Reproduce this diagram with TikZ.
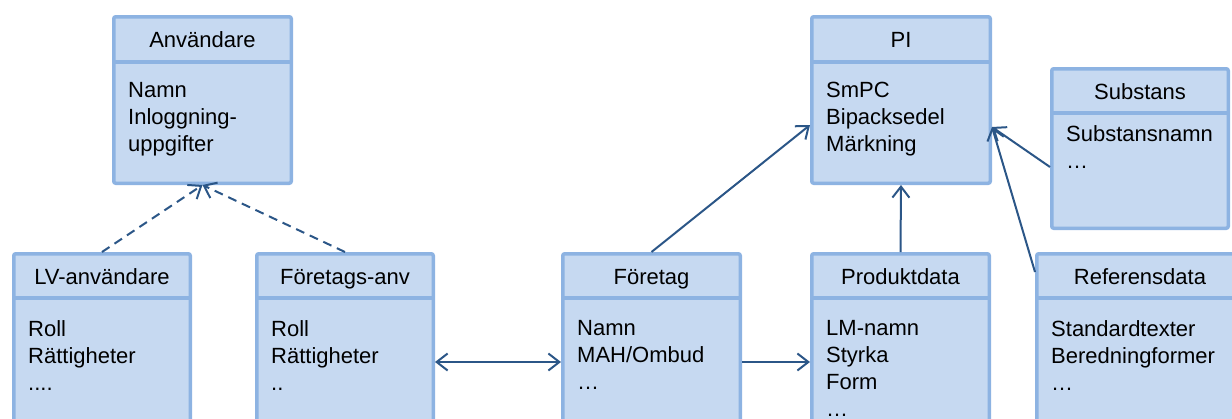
\documentclass[tikz,border=0pt]{standalone}
\usepackage{fontspec}
\setmainfont{Liberation Sans}
\usetikzlibrary{arrows.meta,calc}
\definecolor{boxfill}{HTML}{C6D9F1}
\definecolor{boxline}{HTML}{8DB3E2}
\definecolor{connc}{HTML}{2B5687}
\tikzset{
  cbox/.style={draw=boxline, fill=boxfill, line width=3.5pt, rounded corners=2pt, inner sep=0pt, anchor=north west},
  divline/.style={draw=boxline, line width=3.5pt},
  ctitle/.style={inner sep=0pt, text height=15.8pt, text depth=0pt, font=\fontsize{22}{27}\selectfont, anchor=center},
  cbody/.style={inner sep=0pt, anchor=north west, align=left, font=\fontsize{22}{27}\selectfont},
  link/.style={draw=connc, line width=2pt},
  arr/.style={-{Straight Barb[length=11pt,width=17pt]}},
  darr/.style={{Straight Barb[length=11pt,width=17pt]}-{Straight Barb[length=11pt,width=17pt]}},
  dashlink/.style={link, dash pattern=on 9pt off 6pt}
}
% #1 name, #2 x, #3 y (outer top-left), #4 outer width, #5 outer height,
% #6 header height, #7 title, #8 body, #9 body offset below divider
\newcommand\mkbox[9]{%
  \node[cbox, minimum width={(#4-3.5)*1pt}, minimum height={(#5-3.5)*1pt}] (#1) at (#2,#3) {};
  \draw[divline] ([yshift={-(#6)*1pt}]#1.north west) -- ([yshift={-(#6)*1pt}]#1.north east);
  \node[ctitle] (#1-t) at ([yshift={-(0.5*#6+1.5)*1pt}]#1.north) {#7};
  \node[cbody] (#1-b) at ([xshift=16pt, yshift={-(#6+#9)*1pt}]#1.north west) {#8};
}
\begin{document}
\begin{tikzpicture}[x=1pt,y=-1pt]
\useasboundingbox (0,0) rectangle (1232,418);
\clip (0,0) rectangle (1232,418);

\mkbox{anv}{112}{15}{181}{170}{47}{Användare}{Namn\\Inloggning-\\uppgifter}{20}
\mkbox{pi}{810}{15}{182}{170}{47}{PI}{SmPC\\Bipacksedel\\Märkning}{20}
\mkbox{sub}{1050}{67}{180}{163}{46}{Substans}{Substansnamn\\…}{12}
\mkbox{lv}{12}{252}{180}{220}{46}{LV-användare}{Roll\\Rättigheter\\....}{22}
\mkbox{fa}{255}{252}{180}{220}{46}{Företags-anv}{Roll\\Rättigheter\\..}{22}
\mkbox{fo}{561}{252}{181}{220}{46}{Företag}{Namn\\MAH/Ombud\\…}{22}
\mkbox{pd}{810}{252}{181}{220}{46}{Produktdata}{LM-namn\\Styrka\\Form\\…}{22}
\mkbox{ref}{1035}{252}{210}{220}{46}{Referensdata}{Standardtexter\\Beredningformer\\…}{22}

\coordinate (pil) at ([yshift=-110pt]pi.north west);
\coordinate (pir) at ([yshift=-112pt]pi.north east);
\coordinate (subl) at ([yshift=-100pt]sub.north west);
\coordinate (refl) at ([yshift=-20pt]ref.north west);

\draw[dashlink, arr] (lv.north) -- (anv.south);
\draw[dashlink, arr] (fa.north) -- (anv.south);
\draw[link, darr] (fa.east) -- (fo.west);
\draw[link, arr] (fo.east) -- (pd.west);
\draw[link, arr] (fo.north) -- (pil);
\draw[link, arr] (pd.north) -- (pi.south);
\draw[link, arr] (subl) -- (pir);
\draw[link, arr] (refl) -- (pir);
\end{tikzpicture}
\end{document}
